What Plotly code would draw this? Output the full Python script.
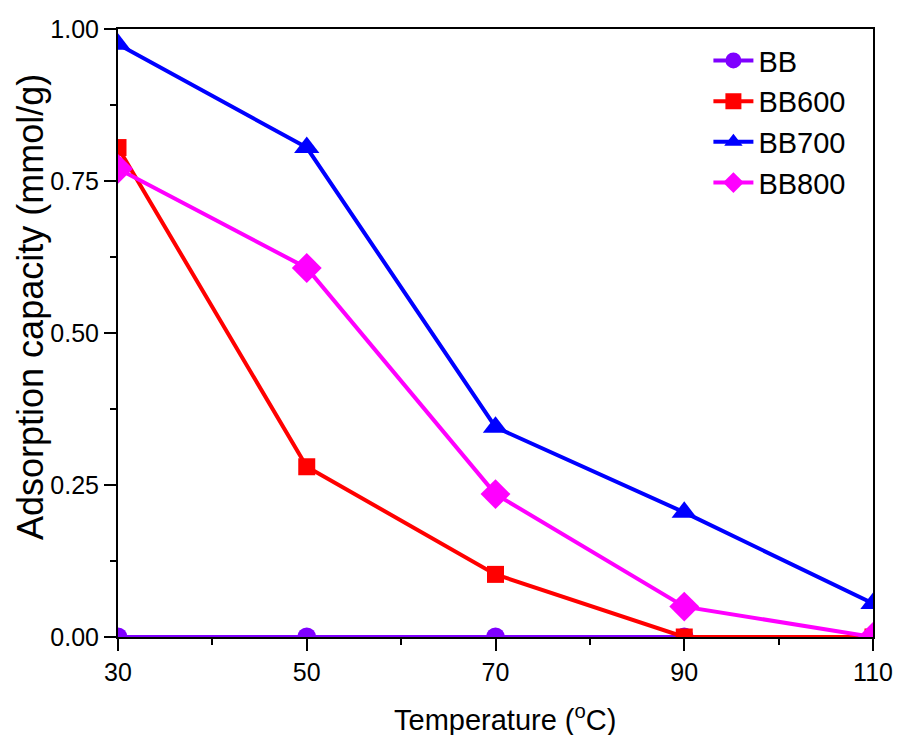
import plotly.graph_objects as go

temperature = [30, 50, 70, 90, 110]
bb = [0.0, 0.0, 0.0, 0.0, 0.0]
bb600 = [0.805, 0.28, 0.103, 0.0, 0.0]
bb700 = [0.975, 0.805, 0.345, 0.205, 0.055]
bb800 = [0.77, 0.607, 0.235, 0.05, 0.0]

series = [
    ("BB", bb, "#7f00ff", "circle", 19),
    ("BB600", bb600, "#ff0000", "square", 17),
    ("BB700", bb700, "#0000ff", "triangle-up", 22),
    ("BB800", bb800, "#ff00ff", "diamond", 23),
]

fig = go.Figure()
for name, vals, color, sym, size in series:
    fig.add_trace(go.Scatter(
        x=temperature, y=vals, name=name, mode="lines+markers",
        line=dict(color=color, width=4),
        marker=dict(symbol=sym, size=size, color=color, line=dict(width=0)),
    ))

font_family = "Liberation Sans, Arial, sans-serif"
fig.update_layout(
    width=898, height=735,
    margin=dict(l=118, r=25, t=29, b=98, autoexpand=False),
    paper_bgcolor="white", plot_bgcolor="white",
    font=dict(family=font_family, size=25, color="black"),
    legend=dict(x=0.782, y=0.99, xanchor="left", yanchor="top",
                font=dict(size=29), bgcolor="rgba(0,0,0,0)",
                tracegroupgap=0, itemwidth=40),
    showlegend=True,
    annotations=[
        dict(text="Temperature (<sup>o</sup>C)", xref="paper", yref="paper",
             x=(505 - 118) / 755, y=-(718 - 637) / 608, xanchor="center", yanchor="middle",
             showarrow=False, font=dict(size=29)),
        dict(text="Adsorption capacity (mmol/g)", xref="paper", yref="paper",
             x=-(118 - 30) / 755, y=1 - (307 - 29) / 608, xanchor="center", yanchor="middle",
             textangle=-90, showarrow=False, font=dict(size=36)),
    ],
)
fig.update_xaxes(
    range=[30, 110], tickvals=[30, 50, 70, 90, 110],
    showgrid=False, zeroline=False, automargin=False,
    showline=True, linecolor="black", linewidth=2, mirror=True,
    ticks="outside", ticklen=12, tickwidth=2, tickcolor="black",
    minor=dict(dtick=10, ticks="outside", ticklen=6, tickwidth=2, tickcolor="black", showgrid=False),
    tickfont=dict(size=25),
)
fig.update_yaxes(
    range=[0, 1], tickvals=[0, 0.25, 0.5, 0.75, 1.0], tickformat=".2f",
    showgrid=False, zeroline=False, automargin=False,
    showline=True, linecolor="black", linewidth=2, mirror=True,
    ticks="outside", ticklen=12, tickwidth=2, tickcolor="black",
    minor=dict(dtick=0.125, ticks="outside", ticklen=6, tickwidth=2, tickcolor="black", showgrid=False),
    tickfont=dict(size=25),
)

fig.write_html("out.html")
